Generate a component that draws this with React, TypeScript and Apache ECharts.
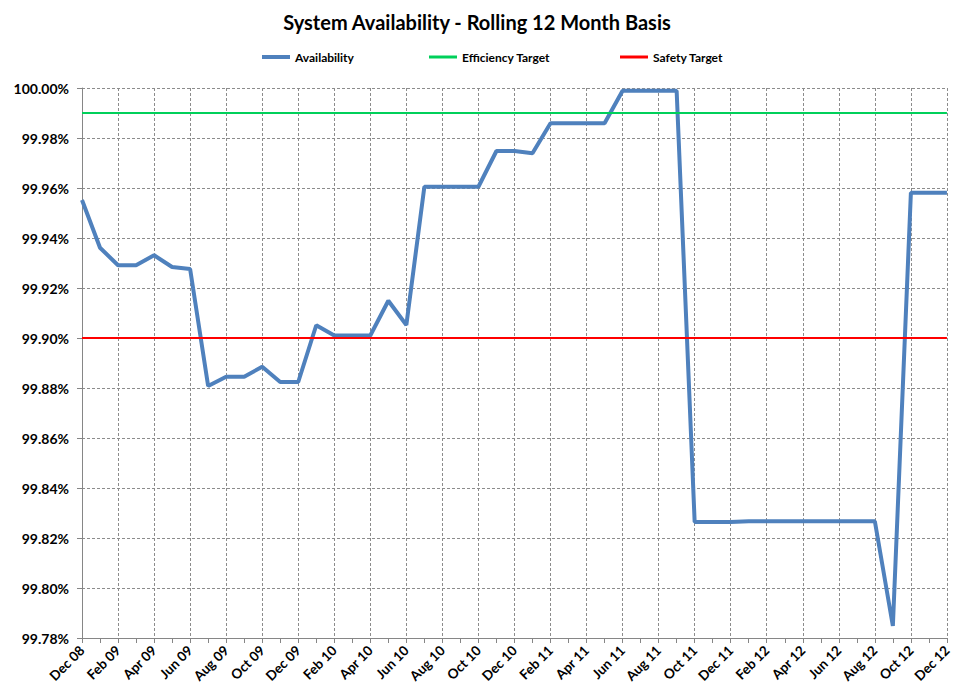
import React, { useEffect, useRef } from "react";
import * as echarts from "echarts";

const categories = [
  "Dec 08", "Jan 09", "Feb 09", "Mar 09", "Apr 09", "May 09", "Jun 09", "Jul 09", "Aug 09", "Sep 09", "Oct 09", "Nov 09",
  "Dec 09", "Jan 10", "Feb 10", "Mar 10", "Apr 10", "May 10", "Jun 10", "Jul 10", "Aug 10", "Sep 10", "Oct 10", "Nov 10",
  "Dec 10", "Jan 11", "Feb 11", "Mar 11", "Apr 11", "May 11", "Jun 11", "Jul 11", "Aug 11", "Sep 11", "Oct 11", "Nov 11",
  "Dec 11", "Jan 12", "Feb 12", "Mar 12", "Apr 12", "May 12", "Jun 12", "Jul 12", "Aug 12", "Sep 12", "Oct 12", "Nov 12",
  "Dec 12",
];

const availability = [
  99.9552, 99.9361, 99.9291, 99.9291, 99.9331, 99.9284, 99.9276, 99.8808, 99.8845, 99.8845, 99.8885, 99.8824,
  99.8824, 99.9051, 99.901, 99.901, 99.901, 99.9149, 99.9052, 99.9605, 99.9605, 99.9605, 99.9605, 99.9748,
  99.9748, 99.9739, 99.9859, 99.9859, 99.9859, 99.9859, 99.9989, 99.9989, 99.9989, 99.9989, 99.8264, 99.8264,
  99.8264, 99.8267, 99.8267, 99.8267, 99.8267, 99.8267, 99.8267, 99.8267, 99.8267, 99.7848, 99.9581, 99.9581,
  99.9581,
];

const efficiencyTarget = 99.99;
const safetyTarget = 99.9;

const yMin = 99.78;
const yMax = 100;
const yStep = 0.02;

const FONT = "Lato, 'Open Sans', sans-serif";

export default function App() {
  const ref = useRef<HTMLDivElement>(null);
  useEffect(() => {
    if (!ref.current) return;
    const chart = echarts.init(ref.current, undefined, { renderer: "svg" });
    const legendText = { fontFamily: FONT, fontSize: 12, fontWeight: "bold" as const, color: "#000" };
    chart.setOption({
      animation: false,
      backgroundColor: "#fff",
      title: {
        text: "System Availability - Rolling 12 Month Basis",
        left: "center",
        top: 7,
        textStyle: { fontFamily: FONT, fontSize: 20, fontWeight: "bold", color: "#000" },
      },
      legend: [
        { data: ["Availability"], left: 257, top: 46, icon: "rect", itemWidth: 28, itemHeight: 4, itemGap: 4, textStyle: legendText },
        { data: ["Efficiency Target"], left: 424, top: 46, icon: "rect", itemWidth: 28, itemHeight: 3, textStyle: legendText },
        { data: ["Safety Target"], left: 615, top: 46, icon: "rect", itemWidth: 28, itemHeight: 3, textStyle: legendText },
      ],
      grid: { left: 82, right: 4, top: 88, bottom: 55, containLabel: false },
      xAxis: {
        type: "category",
        data: categories,
        boundaryGap: false,
        axisLine: { show: true, lineStyle: { color: "#868686", width: 1 } },
        axisTick: { show: true, interval: 0, length: 5, lineStyle: { color: "#868686" } },
        axisLabel: {
          interval: 1,
          rotate: 45,
          margin: 10,
          fontFamily: FONT,
          fontSize: 13.5,
          fontWeight: "bold",
          color: "#000",
        },
        splitLine: { show: true, interval: 1, lineStyle: { color: "#8c8c8c", type: [3, 2], width: 1 } },
      },
      yAxis: {
        type: "value",
        min: yMin,
        max: yMax,
        interval: yStep,
        axisLine: { show: true, lineStyle: { color: "#868686", width: 1 } },
        axisTick: { show: true, length: 5, lineStyle: { color: "#868686" } },
        axisLabel: {
          margin: 13,
          fontFamily: FONT,
          fontSize: 14,
          fontWeight: "bold",
          color: "#000",
          formatter: (v: number) => v.toFixed(2) + "%",
        },
        splitLine: { show: true, lineStyle: { color: "#8c8c8c", type: [3, 2], width: 1 } },
      },
      series: [
        {
          name: "Availability",
          type: "line",
          data: availability,
          symbol: "none",
          itemStyle: { color: "#4F81BD" },
          lineStyle: { color: "#4F81BD", width: 4 },
        },
        {
          name: "Efficiency Target",
          type: "line",
          data: categories.map(() => efficiencyTarget),
          symbol: "none",
          itemStyle: { color: "#00D05A" },
          lineStyle: { color: "#00D05A", width: 2 },
        },
        {
          name: "Safety Target",
          type: "line",
          data: categories.map(() => safetyTarget),
          symbol: "none",
          itemStyle: { color: "#FF0000" },
          lineStyle: { color: "#FF0000", width: 2 },
        },
      ],
    });
    return () => chart.dispose();
  }, []);
  return <div ref={ref} style={{ width: 954, height: 693, position: "absolute", left: 0, top: 0 }} />;
}
